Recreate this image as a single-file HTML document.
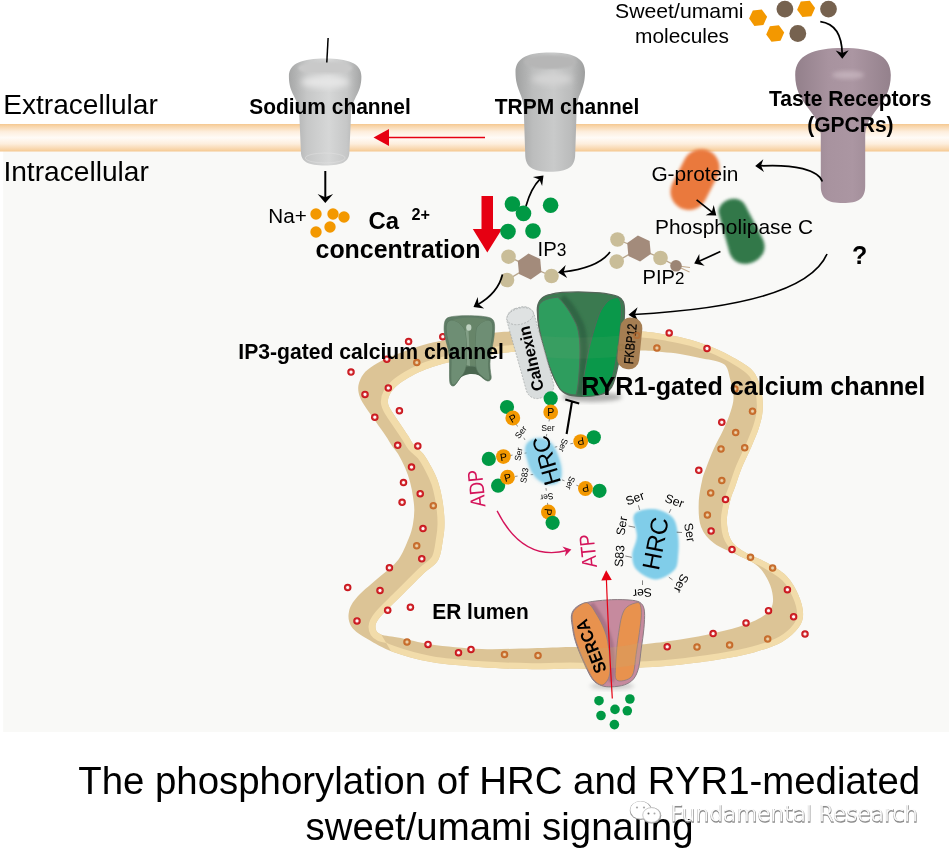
<!DOCTYPE html>
<html><head><meta charset="utf-8"><title>The phosphorylation of HRC and RYR1-mediated sweet/umami signaling</title>
<style>
html,body{margin:0;padding:0;background:#fff;}
body{width:949px;height:853px;overflow:hidden;}
svg{display:block;font-family:'Liberation Sans', Arial, sans-serif;opacity:0.999;}
</style></head><body>
<svg width="949" height="853" viewBox="0 0 949 853">
<defs>
<linearGradient id="mem" x1="0" y1="0" x2="0" y2="1">
 <stop offset="0" stop-color="#f5c890"/><stop offset="0.08" stop-color="#f8d5aa"/><stop offset="0.28" stop-color="#fdeedd"/>
 <stop offset="0.5" stop-color="#fffbf7"/>
 <stop offset="0.72" stop-color="#fdeedd"/><stop offset="0.92" stop-color="#f8d5aa"/><stop offset="1" stop-color="#f5c890"/>
</linearGradient>
<linearGradient id="gray" x1="0" y1="0" x2="1" y2="0">
 <stop offset="0" stop-color="#a6a7a7"/><stop offset="0.25" stop-color="#c6c7c7"/>
 <stop offset="0.55" stop-color="#d6d7d7"/><stop offset="0.8" stop-color="#c6c7c7"/>
 <stop offset="1" stop-color="#a4a5a5"/>
</linearGradient>
<linearGradient id="gray2" x1="0" y1="0" x2="1" y2="0">
 <stop offset="0" stop-color="#a0a1a1"/><stop offset="0.25" stop-color="#bcbdbd"/>
 <stop offset="0.55" stop-color="#c9caca"/><stop offset="0.8" stop-color="#bbbcbc"/>
 <stop offset="1" stop-color="#9d9e9e"/>
</linearGradient>
<linearGradient id="mauve" x1="0" y1="0" x2="1" y2="0">
 <stop offset="0" stop-color="#93808b"/><stop offset="0.35" stop-color="#a8939f"/>
 <stop offset="0.6" stop-color="#ab96a2"/><stop offset="1" stop-color="#94818c"/>
</linearGradient>
<radialGradient id="topgray" cx="0.5" cy="0.5" r="0.6">
 <stop offset="0" stop-color="#f0f0f0"/><stop offset="1" stop-color="#cfd0d0"/>
</radialGradient>
<radialGradient id="dotr"><stop offset="0" stop-color="#fff"/><stop offset="0.3" stop-color="#fdeeee"/><stop offset="0.52" stop-color="#d63a3f"/><stop offset="0.8" stop-color="#c9161d"/><stop offset="1" stop-color="#c9161d"/></radialGradient>
<radialGradient id="dotb"><stop offset="0" stop-color="#f0d9b8"/><stop offset="0.3" stop-color="#e6c49a"/><stop offset="0.52" stop-color="#cc7a38"/><stop offset="0.8" stop-color="#c5692a"/><stop offset="1" stop-color="#c5692a"/></radialGradient>
<filter id="b15" x="-30%" y="-30%" width="160%" height="160%"><feGaussianBlur stdDeviation="1.6"/></filter>
<filter id="b2" x="-30%" y="-30%" width="160%" height="160%"><feGaussianBlur stdDeviation="2"/></filter>
<filter id="b1" x="-30%" y="-30%" width="160%" height="160%"><feGaussianBlur stdDeviation="1.2"/></filter>
<filter id="b3" x="-30%" y="-30%" width="160%" height="160%"><feGaussianBlur stdDeviation="3"/></filter>
<filter id="b05" x="-30%" y="-30%" width="160%" height="160%"><feGaussianBlur stdDeviation="0.6"/></filter>
</defs>
<rect x="0" y="0" width="949" height="853" fill="#fff"/>
<rect x="3.2" y="150" width="946" height="582" fill="#f9f9f7"/>
<rect x="0" y="124" width="949" height="27.5" fill="url(#mem)"/>
<clipPath id="bandclip"><path clip-rule="evenodd" d="M443.5,340.5 C451.1,339.1 464.9,336.4 475.0,335.0 C485.1,333.6 493.2,332.6 504.0,331.8 C514.8,331.1 524.0,330.7 540.0,330.5 C556.0,330.3 583.0,330.3 600.0,330.5 C617.0,330.7 630.7,330.9 642.0,331.6 C653.3,332.4 659.8,333.6 668.0,335.0 C676.2,336.4 683.0,337.6 691.3,340.0 C699.5,342.4 709.1,345.6 717.5,349.4 C725.9,353.1 735.6,358.4 741.9,362.5 C748.1,366.6 751.7,368.8 755.0,373.8 C758.3,378.8 760.3,386.2 761.6,392.5 C762.9,398.8 763.1,405.4 762.6,411.3 C762.1,417.2 760.7,422.3 758.8,428.2 C756.9,434.1 754.1,440.3 751.3,446.9 C748.5,453.5 744.6,461.0 741.9,467.6 C739.2,474.2 737.2,480.9 735.3,486.3 C733.4,491.7 731.8,494.4 730.4,500.0 C729.0,505.6 726.9,513.4 726.9,519.9 C726.9,526.4 727.9,533.6 730.4,538.7 C732.9,543.8 736.2,546.5 742.1,550.4 C748.0,554.3 758.2,557.8 765.6,562.1 C773.0,566.4 781.2,570.7 786.7,576.2 C792.2,581.7 795.7,588.8 798.4,595.0 C801.1,601.2 803.1,608.2 803.1,613.7 C803.1,619.2 801.9,623.1 798.4,627.8 C794.9,632.5 789.4,637.8 782.0,641.9 C774.6,646.0 764.3,649.5 753.8,652.4 C743.2,655.3 730.4,657.5 718.7,659.5 C707.0,661.5 693.3,663.0 683.5,664.2 C673.7,665.4 668.9,665.9 660.0,666.5 C651.1,667.1 640.0,667.6 630.0,668.0 C620.0,668.4 610.0,668.9 600.0,669.0 C590.0,669.1 581.3,668.4 570.0,668.4 C558.7,668.4 547.0,669.4 532.3,669.2 C517.6,669.0 498.5,668.4 481.7,667.2 C464.9,666.0 445.9,664.6 431.2,662.1 C416.4,659.6 403.8,655.8 393.2,652.0 C382.6,648.2 374.8,643.5 367.9,639.3 C360.9,635.1 354.6,631.3 351.5,626.7 C348.4,622.1 347.9,616.6 349.0,611.5 C350.1,606.4 352.5,602.2 357.8,596.3 C363.1,590.4 373.9,582.1 380.6,576.1 C387.3,570.1 393.4,566.3 398.1,560.0 C402.8,553.7 406.2,544.4 408.7,538.5 C411.2,532.6 412.0,529.1 412.9,524.4 C413.8,519.7 414.3,515.0 414.3,510.3 C414.3,505.6 413.6,501.0 412.9,496.3 C412.2,491.6 411.4,486.9 410.1,482.2 C408.8,477.5 407.2,472.8 405.2,468.1 C403.2,463.4 400.4,458.0 398.1,454.1 C395.8,450.2 393.4,448.0 391.4,445.0 C389.3,442.0 388.4,439.9 385.8,436.1 C383.2,432.3 379.3,426.8 376.0,422.1 C372.7,417.4 368.8,412.2 366.1,408.0 C363.4,403.8 361.1,400.6 359.8,396.8 C358.5,393.1 357.8,389.3 358.4,385.5 C359.0,381.7 360.9,377.5 363.3,374.2 C365.8,370.9 369.1,368.5 373.1,365.8 C377.1,363.1 382.5,360.3 387.2,358.1 C391.9,355.9 396.6,354.2 401.3,352.4 C406.0,350.6 410.6,349.0 415.3,347.5 C420.0,346.0 424.7,344.5 429.4,343.3 C434.1,342.1 435.9,341.9 443.5,340.5Z M449.1,362.3 C455.5,360.9 465.9,359.1 475.0,357.5 C484.1,355.9 493.2,353.8 504.0,352.7 C514.8,351.6 524.0,351.4 540.0,351.0 C556.0,350.6 583.0,350.4 600.0,350.3 C617.0,350.2 631.7,350.3 642.0,350.6 C652.3,350.9 655.7,351.4 662.0,352.0 C668.3,352.6 673.9,353.0 680.0,354.0 C686.1,355.0 692.5,356.5 698.8,357.8 C705.0,359.1 713.0,360.2 717.5,361.6 C722.0,363.0 724.0,363.7 726.0,366.3 C728.0,368.9 728.5,372.5 729.7,377.5 C731.0,382.5 733.3,390.7 733.5,396.3 C733.7,401.9 732.4,405.7 730.7,411.3 C729.0,416.9 726.0,423.8 723.2,430.0 C720.4,436.2 716.6,442.5 713.8,448.8 C711.0,455.1 708.2,462.4 706.3,467.6 C704.4,472.8 703.5,474.0 702.2,480.0 C700.9,486.0 698.9,495.7 698.7,503.5 C698.5,511.3 698.6,520.3 701.1,526.9 C703.6,533.5 708.0,538.6 714.0,543.3 C720.0,548.0 730.0,551.2 737.4,555.1 C744.8,559.0 753.0,561.7 758.5,566.8 C764.0,571.9 767.9,579.4 770.3,585.6 C772.6,591.9 773.8,599.2 772.6,604.3 C771.4,609.4 768.7,612.4 763.2,616.1 C757.7,619.8 749.2,623.5 739.8,626.6 C730.4,629.7 718.2,632.4 706.9,634.8 C695.5,637.1 682.9,639.1 671.7,640.7 C660.6,642.3 652.0,643.5 640.0,644.5 C628.0,645.5 611.7,646.6 600.0,647.0 C588.3,647.4 581.3,646.8 570.0,647.0 C558.7,647.2 547.0,647.9 532.3,648.2 C517.6,648.5 498.5,649.6 481.7,649.0 C464.9,648.4 444.7,646.2 431.2,644.4 C417.7,642.6 409.2,639.8 400.8,638.1 C392.4,636.4 384.8,636.2 380.6,634.3 C376.4,632.4 375.5,629.7 375.5,626.7 C375.5,623.8 376.4,621.7 380.6,616.6 C384.8,611.5 393.6,603.5 400.8,596.3 C408.0,589.1 417.4,579.6 423.6,573.6 C429.8,567.6 434.9,565.9 438.2,560.0 C441.4,554.1 442.1,544.4 443.1,538.5 C444.2,532.6 444.4,529.1 444.5,524.4 C444.6,519.7 444.3,515.0 443.8,510.3 C443.3,505.6 442.6,501.0 441.7,496.3 C440.8,491.6 439.8,486.9 438.2,482.2 C436.6,477.5 434.4,472.8 431.9,468.1 C429.4,463.4 426.4,458.0 423.4,454.1 C420.4,450.2 416.4,448.0 413.9,445.0 C411.4,442.0 410.6,439.7 408.3,436.1 C406.0,432.5 402.7,427.7 399.9,423.5 C397.1,419.3 393.4,414.3 391.4,410.8 C389.4,407.3 388.1,405.2 387.9,402.4 C387.7,399.6 388.5,396.7 390.0,393.9 C391.5,391.1 394.1,388.2 397.1,385.5 C400.2,382.8 404.1,380.3 408.3,377.8 C412.5,375.3 417.7,372.7 422.4,370.7 C427.1,368.7 431.9,367.2 436.4,365.8 C440.8,364.4 442.7,363.7 449.1,362.3Z"/></clipPath>
<clipPath id="clipA"><path d="M340,300 L580,300 L580,400 L455,400 L455,560 L381,634 L392,653 L340,690Z"/></clipPath>
<clipPath id="clipB"><path clip-rule="evenodd" d="M0,0 H949 V853 H0Z M340,300 L580,300 L580,400 L455,400 L455,560 L381,634 L392,653 L340,690Z"/></clipPath>
<path fill-rule="evenodd" d="M443.5,340.5 C451.1,339.1 464.9,336.4 475.0,335.0 C485.1,333.6 493.2,332.6 504.0,331.8 C514.8,331.1 524.0,330.7 540.0,330.5 C556.0,330.3 583.0,330.3 600.0,330.5 C617.0,330.7 630.7,330.9 642.0,331.6 C653.3,332.4 659.8,333.6 668.0,335.0 C676.2,336.4 683.0,337.6 691.3,340.0 C699.5,342.4 709.1,345.6 717.5,349.4 C725.9,353.1 735.6,358.4 741.9,362.5 C748.1,366.6 751.7,368.8 755.0,373.8 C758.3,378.8 760.3,386.2 761.6,392.5 C762.9,398.8 763.1,405.4 762.6,411.3 C762.1,417.2 760.7,422.3 758.8,428.2 C756.9,434.1 754.1,440.3 751.3,446.9 C748.5,453.5 744.6,461.0 741.9,467.6 C739.2,474.2 737.2,480.9 735.3,486.3 C733.4,491.7 731.8,494.4 730.4,500.0 C729.0,505.6 726.9,513.4 726.9,519.9 C726.9,526.4 727.9,533.6 730.4,538.7 C732.9,543.8 736.2,546.5 742.1,550.4 C748.0,554.3 758.2,557.8 765.6,562.1 C773.0,566.4 781.2,570.7 786.7,576.2 C792.2,581.7 795.7,588.8 798.4,595.0 C801.1,601.2 803.1,608.2 803.1,613.7 C803.1,619.2 801.9,623.1 798.4,627.8 C794.9,632.5 789.4,637.8 782.0,641.9 C774.6,646.0 764.3,649.5 753.8,652.4 C743.2,655.3 730.4,657.5 718.7,659.5 C707.0,661.5 693.3,663.0 683.5,664.2 C673.7,665.4 668.9,665.9 660.0,666.5 C651.1,667.1 640.0,667.6 630.0,668.0 C620.0,668.4 610.0,668.9 600.0,669.0 C590.0,669.1 581.3,668.4 570.0,668.4 C558.7,668.4 547.0,669.4 532.3,669.2 C517.6,669.0 498.5,668.4 481.7,667.2 C464.9,666.0 445.9,664.6 431.2,662.1 C416.4,659.6 403.8,655.8 393.2,652.0 C382.6,648.2 374.8,643.5 367.9,639.3 C360.9,635.1 354.6,631.3 351.5,626.7 C348.4,622.1 347.9,616.6 349.0,611.5 C350.1,606.4 352.5,602.2 357.8,596.3 C363.1,590.4 373.9,582.1 380.6,576.1 C387.3,570.1 393.4,566.3 398.1,560.0 C402.8,553.7 406.2,544.4 408.7,538.5 C411.2,532.6 412.0,529.1 412.9,524.4 C413.8,519.7 414.3,515.0 414.3,510.3 C414.3,505.6 413.6,501.0 412.9,496.3 C412.2,491.6 411.4,486.9 410.1,482.2 C408.8,477.5 407.2,472.8 405.2,468.1 C403.2,463.4 400.4,458.0 398.1,454.1 C395.8,450.2 393.4,448.0 391.4,445.0 C389.3,442.0 388.4,439.9 385.8,436.1 C383.2,432.3 379.3,426.8 376.0,422.1 C372.7,417.4 368.8,412.2 366.1,408.0 C363.4,403.8 361.1,400.6 359.8,396.8 C358.5,393.1 357.8,389.3 358.4,385.5 C359.0,381.7 360.9,377.5 363.3,374.2 C365.8,370.9 369.1,368.5 373.1,365.8 C377.1,363.1 382.5,360.3 387.2,358.1 C391.9,355.9 396.6,354.2 401.3,352.4 C406.0,350.6 410.6,349.0 415.3,347.5 C420.0,346.0 424.7,344.5 429.4,343.3 C434.1,342.1 435.9,341.9 443.5,340.5Z M449.1,362.3 C455.5,360.9 465.9,359.1 475.0,357.5 C484.1,355.9 493.2,353.8 504.0,352.7 C514.8,351.6 524.0,351.4 540.0,351.0 C556.0,350.6 583.0,350.4 600.0,350.3 C617.0,350.2 631.7,350.3 642.0,350.6 C652.3,350.9 655.7,351.4 662.0,352.0 C668.3,352.6 673.9,353.0 680.0,354.0 C686.1,355.0 692.5,356.5 698.8,357.8 C705.0,359.1 713.0,360.2 717.5,361.6 C722.0,363.0 724.0,363.7 726.0,366.3 C728.0,368.9 728.5,372.5 729.7,377.5 C731.0,382.5 733.3,390.7 733.5,396.3 C733.7,401.9 732.4,405.7 730.7,411.3 C729.0,416.9 726.0,423.8 723.2,430.0 C720.4,436.2 716.6,442.5 713.8,448.8 C711.0,455.1 708.2,462.4 706.3,467.6 C704.4,472.8 703.5,474.0 702.2,480.0 C700.9,486.0 698.9,495.7 698.7,503.5 C698.5,511.3 698.6,520.3 701.1,526.9 C703.6,533.5 708.0,538.6 714.0,543.3 C720.0,548.0 730.0,551.2 737.4,555.1 C744.8,559.0 753.0,561.7 758.5,566.8 C764.0,571.9 767.9,579.4 770.3,585.6 C772.6,591.9 773.8,599.2 772.6,604.3 C771.4,609.4 768.7,612.4 763.2,616.1 C757.7,619.8 749.2,623.5 739.8,626.6 C730.4,629.7 718.2,632.4 706.9,634.8 C695.5,637.1 682.9,639.1 671.7,640.7 C660.6,642.3 652.0,643.5 640.0,644.5 C628.0,645.5 611.7,646.6 600.0,647.0 C588.3,647.4 581.3,646.8 570.0,647.0 C558.7,647.2 547.0,647.9 532.3,648.2 C517.6,648.5 498.5,649.6 481.7,649.0 C464.9,648.4 444.7,646.2 431.2,644.4 C417.7,642.6 409.2,639.8 400.8,638.1 C392.4,636.4 384.8,636.2 380.6,634.3 C376.4,632.4 375.5,629.7 375.5,626.7 C375.5,623.8 376.4,621.7 380.6,616.6 C384.8,611.5 393.6,603.5 400.8,596.3 C408.0,589.1 417.4,579.6 423.6,573.6 C429.8,567.6 434.9,565.9 438.2,560.0 C441.4,554.1 442.1,544.4 443.1,538.5 C444.2,532.6 444.4,529.1 444.5,524.4 C444.6,519.7 444.3,515.0 443.8,510.3 C443.3,505.6 442.6,501.0 441.7,496.3 C440.8,491.6 439.8,486.9 438.2,482.2 C436.6,477.5 434.4,472.8 431.9,468.1 C429.4,463.4 426.4,458.0 423.4,454.1 C420.4,450.2 416.4,448.0 413.9,445.0 C411.4,442.0 410.6,439.7 408.3,436.1 C406.0,432.5 402.7,427.7 399.9,423.5 C397.1,419.3 393.4,414.3 391.4,410.8 C389.4,407.3 388.1,405.2 387.9,402.4 C387.7,399.6 388.5,396.7 390.0,393.9 C391.5,391.1 394.1,388.2 397.1,385.5 C400.2,382.8 404.1,380.3 408.3,377.8 C412.5,375.3 417.7,372.7 422.4,370.7 C427.1,368.7 431.9,367.2 436.4,365.8 C440.8,364.4 442.7,363.7 449.1,362.3Z" fill="#dcc496"/>
<g clip-path="url(#bandclip)"><g clip-path="url(#clipA)"><path d="M449.1,362.3 C455.5,360.9 465.9,359.1 475.0,357.5 C484.1,355.9 493.2,353.8 504.0,352.7 C514.8,351.6 524.0,351.4 540.0,351.0 C556.0,350.6 583.0,350.4 600.0,350.3 C617.0,350.2 631.7,350.3 642.0,350.6 C652.3,350.9 655.7,351.4 662.0,352.0 C668.3,352.6 673.9,353.0 680.0,354.0 C686.1,355.0 692.5,356.5 698.8,357.8 C705.0,359.1 713.0,360.2 717.5,361.6 C722.0,363.0 724.0,363.7 726.0,366.3 C728.0,368.9 728.5,372.5 729.7,377.5 C731.0,382.5 733.3,390.7 733.5,396.3 C733.7,401.9 732.4,405.7 730.7,411.3 C729.0,416.9 726.0,423.8 723.2,430.0 C720.4,436.2 716.6,442.5 713.8,448.8 C711.0,455.1 708.2,462.4 706.3,467.6 C704.4,472.8 703.5,474.0 702.2,480.0 C700.9,486.0 698.9,495.7 698.7,503.5 C698.5,511.3 698.6,520.3 701.1,526.9 C703.6,533.5 708.0,538.6 714.0,543.3 C720.0,548.0 730.0,551.2 737.4,555.1 C744.8,559.0 753.0,561.7 758.5,566.8 C764.0,571.9 767.9,579.4 770.3,585.6 C772.6,591.9 773.8,599.2 772.6,604.3 C771.4,609.4 768.7,612.4 763.2,616.1 C757.7,619.8 749.2,623.5 739.8,626.6 C730.4,629.7 718.2,632.4 706.9,634.8 C695.5,637.1 682.9,639.1 671.7,640.7 C660.6,642.3 652.0,643.5 640.0,644.5 C628.0,645.5 611.7,646.6 600.0,647.0 C588.3,647.4 581.3,646.8 570.0,647.0 C558.7,647.2 547.0,647.9 532.3,648.2 C517.6,648.5 498.5,649.6 481.7,649.0 C464.9,648.4 444.7,646.2 431.2,644.4 C417.7,642.6 409.2,639.8 400.8,638.1 C392.4,636.4 384.8,636.2 380.6,634.3 C376.4,632.4 375.5,629.7 375.5,626.7 C375.5,623.8 376.4,621.7 380.6,616.6 C384.8,611.5 393.6,603.5 400.8,596.3 C408.0,589.1 417.4,579.6 423.6,573.6 C429.8,567.6 434.9,565.9 438.2,560.0 C441.4,554.1 442.1,544.4 443.1,538.5 C444.2,532.6 444.4,529.1 444.5,524.4 C444.6,519.7 444.3,515.0 443.8,510.3 C443.3,505.6 442.6,501.0 441.7,496.3 C440.8,491.6 439.8,486.9 438.2,482.2 C436.6,477.5 434.4,472.8 431.9,468.1 C429.4,463.4 426.4,458.0 423.4,454.1 C420.4,450.2 416.4,448.0 413.9,445.0 C411.4,442.0 410.6,439.7 408.3,436.1 C406.0,432.5 402.7,427.7 399.9,423.5 C397.1,419.3 393.4,414.3 391.4,410.8 C389.4,407.3 388.1,405.2 387.9,402.4 C387.7,399.6 388.5,396.7 390.0,393.9 C391.5,391.1 394.1,388.2 397.1,385.5 C400.2,382.8 404.1,380.3 408.3,377.8 C412.5,375.3 417.7,372.7 422.4,370.7 C427.1,368.7 431.9,367.2 436.4,365.8 C440.8,364.4 442.7,363.7 449.1,362.3Z" fill="none" stroke="#f2dcaa" stroke-width="14"/></g><g clip-path="url(#clipB)"><path d="M443.5,340.5 C451.1,339.1 464.9,336.4 475.0,335.0 C485.1,333.6 493.2,332.6 504.0,331.8 C514.8,331.1 524.0,330.7 540.0,330.5 C556.0,330.3 583.0,330.3 600.0,330.5 C617.0,330.7 630.7,330.9 642.0,331.6 C653.3,332.4 659.8,333.6 668.0,335.0 C676.2,336.4 683.0,337.6 691.3,340.0 C699.5,342.4 709.1,345.6 717.5,349.4 C725.9,353.1 735.6,358.4 741.9,362.5 C748.1,366.6 751.7,368.8 755.0,373.8 C758.3,378.8 760.3,386.2 761.6,392.5 C762.9,398.8 763.1,405.4 762.6,411.3 C762.1,417.2 760.7,422.3 758.8,428.2 C756.9,434.1 754.1,440.3 751.3,446.9 C748.5,453.5 744.6,461.0 741.9,467.6 C739.2,474.2 737.2,480.9 735.3,486.3 C733.4,491.7 731.8,494.4 730.4,500.0 C729.0,505.6 726.9,513.4 726.9,519.9 C726.9,526.4 727.9,533.6 730.4,538.7 C732.9,543.8 736.2,546.5 742.1,550.4 C748.0,554.3 758.2,557.8 765.6,562.1 C773.0,566.4 781.2,570.7 786.7,576.2 C792.2,581.7 795.7,588.8 798.4,595.0 C801.1,601.2 803.1,608.2 803.1,613.7 C803.1,619.2 801.9,623.1 798.4,627.8 C794.9,632.5 789.4,637.8 782.0,641.9 C774.6,646.0 764.3,649.5 753.8,652.4 C743.2,655.3 730.4,657.5 718.7,659.5 C707.0,661.5 693.3,663.0 683.5,664.2 C673.7,665.4 668.9,665.9 660.0,666.5 C651.1,667.1 640.0,667.6 630.0,668.0 C620.0,668.4 610.0,668.9 600.0,669.0 C590.0,669.1 581.3,668.4 570.0,668.4 C558.7,668.4 547.0,669.4 532.3,669.2 C517.6,669.0 498.5,668.4 481.7,667.2 C464.9,666.0 445.9,664.6 431.2,662.1 C416.4,659.6 403.8,655.8 393.2,652.0 C382.6,648.2 374.8,643.5 367.9,639.3 C360.9,635.1 354.6,631.3 351.5,626.7 C348.4,622.1 347.9,616.6 349.0,611.5 C350.1,606.4 352.5,602.2 357.8,596.3 C363.1,590.4 373.9,582.1 380.6,576.1 C387.3,570.1 393.4,566.3 398.1,560.0 C402.8,553.7 406.2,544.4 408.7,538.5 C411.2,532.6 412.0,529.1 412.9,524.4 C413.8,519.7 414.3,515.0 414.3,510.3 C414.3,505.6 413.6,501.0 412.9,496.3 C412.2,491.6 411.4,486.9 410.1,482.2 C408.8,477.5 407.2,472.8 405.2,468.1 C403.2,463.4 400.4,458.0 398.1,454.1 C395.8,450.2 393.4,448.0 391.4,445.0 C389.3,442.0 388.4,439.9 385.8,436.1 C383.2,432.3 379.3,426.8 376.0,422.1 C372.7,417.4 368.8,412.2 366.1,408.0 C363.4,403.8 361.1,400.6 359.8,396.8 C358.5,393.1 357.8,389.3 358.4,385.5 C359.0,381.7 360.9,377.5 363.3,374.2 C365.8,370.9 369.1,368.5 373.1,365.8 C377.1,363.1 382.5,360.3 387.2,358.1 C391.9,355.9 396.6,354.2 401.3,352.4 C406.0,350.6 410.6,349.0 415.3,347.5 C420.0,346.0 424.7,344.5 429.4,343.3 C434.1,342.1 435.9,341.9 443.5,340.5Z" fill="none" stroke="#f2dcaa" stroke-width="12"/></g></g>
<circle cx="416.8" cy="362.6" r="3.75" fill="url(#dotb)"/>
<circle cx="433.3" cy="505.7" r="3.75" fill="url(#dotb)"/>
<circle cx="416.7" cy="545.8" r="3.75" fill="url(#dotb)"/>
<circle cx="407.0" cy="642.0" r="3.75" fill="url(#dotb)"/>
<circle cx="504.5" cy="654.5" r="3.75" fill="url(#dotb)"/>
<circle cx="538.0" cy="655.5" r="3.75" fill="url(#dotb)"/>
<circle cx="636.9" cy="335.4" r="3.75" fill="url(#dotb)"/>
<circle cx="656.9" cy="348.0" r="3.75" fill="url(#dotb)"/>
<circle cx="752.5" cy="411.2" r="3.75" fill="url(#dotb)"/>
<circle cx="735.7" cy="432.6" r="3.75" fill="url(#dotb)"/>
<circle cx="721.0" cy="449.0" r="3.75" fill="url(#dotb)"/>
<circle cx="744.7" cy="447.8" r="3.75" fill="url(#dotb)"/>
<circle cx="721.8" cy="480.6" r="3.75" fill="url(#dotb)"/>
<circle cx="710.7" cy="492.9" r="3.75" fill="url(#dotb)"/>
<circle cx="707.4" cy="515.0" r="3.75" fill="url(#dotb)"/>
<circle cx="750.5" cy="557.3" r="3.75" fill="url(#dotb)"/>
<circle cx="772.6" cy="568.0" r="3.75" fill="url(#dotb)"/>
<circle cx="767.7" cy="639.0" r="3.75" fill="url(#dotb)"/>
<circle cx="729.6" cy="645.0" r="3.75" fill="url(#dotb)"/>
<circle cx="697.0" cy="647.0" r="3.75" fill="url(#dotb)"/>
<circle cx="734.9" cy="389.0" r="3.75" fill="url(#dotb)"/>
<circle cx="408.6" cy="341.6" r="3.75" fill="url(#dotr)"/>
<circle cx="442.8" cy="336.7" r="3.75" fill="url(#dotr)"/>
<circle cx="386.8" cy="359.2" r="3.75" fill="url(#dotr)"/>
<circle cx="351.0" cy="372.1" r="3.75" fill="url(#dotr)"/>
<circle cx="388.3" cy="388.0" r="3.75" fill="url(#dotr)"/>
<circle cx="365.0" cy="394.4" r="3.75" fill="url(#dotr)"/>
<circle cx="399.4" cy="410.8" r="3.75" fill="url(#dotr)"/>
<circle cx="374.8" cy="417.2" r="3.75" fill="url(#dotr)"/>
<circle cx="397.7" cy="445.3" r="3.75" fill="url(#dotr)"/>
<circle cx="417.8" cy="446.0" r="3.75" fill="url(#dotr)"/>
<circle cx="411.5" cy="467.1" r="3.75" fill="url(#dotr)"/>
<circle cx="403.5" cy="482.6" r="3.75" fill="url(#dotr)"/>
<circle cx="420.2" cy="493.7" r="3.75" fill="url(#dotr)"/>
<circle cx="402.1" cy="502.3" r="3.75" fill="url(#dotr)"/>
<circle cx="423.0" cy="528.6" r="3.75" fill="url(#dotr)"/>
<circle cx="421.8" cy="558.8" r="3.75" fill="url(#dotr)"/>
<circle cx="389.4" cy="567.8" r="3.75" fill="url(#dotr)"/>
<circle cx="347.7" cy="587.5" r="3.75" fill="url(#dotr)"/>
<circle cx="380.0" cy="590.5" r="3.75" fill="url(#dotr)"/>
<circle cx="387.7" cy="610.2" r="3.75" fill="url(#dotr)"/>
<circle cx="410.4" cy="607.2" r="3.75" fill="url(#dotr)"/>
<circle cx="357.0" cy="620.9" r="3.75" fill="url(#dotr)"/>
<circle cx="428.0" cy="644.4" r="3.75" fill="url(#dotr)"/>
<circle cx="458.5" cy="652.7" r="3.75" fill="url(#dotr)"/>
<circle cx="471.0" cy="649.5" r="3.75" fill="url(#dotr)"/>
<circle cx="669.2" cy="332.9" r="3.75" fill="url(#dotr)"/>
<circle cx="707.0" cy="348.5" r="3.75" fill="url(#dotr)"/>
<circle cx="721.8" cy="422.3" r="3.75" fill="url(#dotr)"/>
<circle cx="698.8" cy="470.3" r="3.75" fill="url(#dotr)"/>
<circle cx="725.5" cy="499.5" r="3.75" fill="url(#dotr)"/>
<circle cx="711.1" cy="531.0" r="3.75" fill="url(#dotr)"/>
<circle cx="732.0" cy="549.5" r="3.75" fill="url(#dotr)"/>
<circle cx="787.4" cy="589.7" r="3.75" fill="url(#dotr)"/>
<circle cx="768.5" cy="610.7" r="3.75" fill="url(#dotr)"/>
<circle cx="793.6" cy="616.8" r="3.75" fill="url(#dotr)"/>
<circle cx="805.0" cy="634.0" r="3.75" fill="url(#dotr)"/>
<circle cx="746.0" cy="623.0" r="3.75" fill="url(#dotr)"/>
<circle cx="713.1" cy="633.6" r="3.75" fill="url(#dotr)"/>
<circle cx="667.2" cy="646.8" r="3.75" fill="url(#dotr)"/>
<path d="M288.9,76.5 C288.9,63.0 302.7,58.5 325.2,58.5 C347.7,58.5 361.4,63.0 361.4,76.5 C361.4,94.2 352.4,97.1 351.2,112.0 L349.4,151.5 C349.4,162.0 342.2,165.5 325.2,165.5 C308.2,165.5 300.9,162.0 300.9,151.5 L299.2,112.0 C298.0,97.1 288.9,94.2 288.9,76.5 Z" fill="url(#gray)"/>
<ellipse cx="325.2" cy="68" rx="27" ry="6.5" fill="#c9c9c9" filter="url(#b1)"/>
<ellipse cx="325.2" cy="82" rx="24" ry="6" fill="#e6e6e6" filter="url(#b3)"/>
<ellipse cx="325.2" cy="158" rx="20" ry="5" fill="none" stroke="#e2e2e2" stroke-width="0.9" opacity="0.55"/>
<path d="M515.5,72.0 C515.5,57.4 528.7,52.5 550.2,52.5 C571.7,52.5 585.0,57.4 585.0,72.0 C585.0,90.0 577.7,92.9 576.7,108.0 L575.2,153.7 C575.2,167.2 567.7,171.7 550.2,171.7 C532.7,171.7 525.2,167.2 525.2,153.7 L523.7,108.0 C522.7,92.9 515.5,90.0 515.5,72.0 Z" fill="url(#gray2)"/>
<ellipse cx="550.2" cy="62" rx="26" ry="7" fill="#b6b6b6" filter="url(#b1)"/>
<ellipse cx="552" cy="79" rx="20" ry="6" fill="#d4d4d4" filter="url(#b3)"/>
<path d="M795.2,75.0 C795.2,54.8 813.4,48.0 843.0,48.0 C872.6,48.0 890.8,54.8 890.8,75.0 C890.8,104.5 868.3,109.2 865.2,134.0 L865.2,186.0 C865.2,198.8 858.6,203.0 843.0,203.0 C827.4,203.0 820.8,198.8 820.8,186.0 L820.8,134.0 C817.7,109.2 795.2,104.5 795.2,75.0 Z" fill="url(#mauve)"/>
<ellipse cx="848" cy="75" rx="16" ry="4" fill="#c4b2bc" filter="url(#b2)" opacity="0.9"/>
<path d="M328.1,38 L326.8,62.5" stroke="#000" stroke-width="1.5" fill="none"/>
<path d="M325.3,171.0 Q325.3,186.0 325.3,198.1" fill="none" stroke="#000" stroke-width="2.00"/><polygon points="325.3,203.0 333.1,194.0 325.3,197.2 317.6,194.0" fill="#000"/>
<path d="M388,137.5 L485,137.5" stroke="#e60012" stroke-width="1.6"/>
<polygon points="373.5,137.5 389,129 389,146" fill="#e60012"/>
<polygon points="481.5,196 493,196 493,229 502,229 487.3,252.5 472.8,229 481.5,229" fill="#e60012"/>
<circle cx="316.0" cy="214.0" r="5.7" fill="#f39800"/>
<circle cx="333.0" cy="214.0" r="5.7" fill="#f39800"/>
<circle cx="344.0" cy="217.0" r="5.7" fill="#f39800"/>
<circle cx="330.0" cy="227.0" r="5.7" fill="#f39800"/>
<circle cx="316.0" cy="232.0" r="5.7" fill="#f39800"/>
<circle cx="512.4" cy="204.0" r="7.8" fill="#009944"/>
<circle cx="523.5" cy="213.4" r="7.8" fill="#009944"/>
<circle cx="550.6" cy="205.2" r="7.8" fill="#009944"/>
<circle cx="508.0" cy="231.6" r="7.8" fill="#009944"/>
<circle cx="533.0" cy="231.0" r="7.8" fill="#009944"/>
<polygon points="767.1,16.8 763.4,25.0 754.4,25.9 749.1,18.6 752.8,10.4 761.8,9.5" fill="#f39800"/>
<polygon points="815.1,8.0 811.4,16.2 802.4,17.1 797.1,9.8 800.8,1.6 809.8,0.7" fill="#f39800"/>
<polygon points="784.2,32.6 780.5,40.8 771.5,41.7 766.2,34.4 769.9,26.2 778.9,25.3" fill="#f39800"/>
<circle cx="784.9" cy="9.1" r="8.4" fill="#76624f"/>
<circle cx="828.5" cy="9.1" r="8.4" fill="#76624f"/>
<circle cx="797.8" cy="33.5" r="8.4" fill="#76624f"/>
<path d="M529.6,266.6 L508.5,256.7" stroke="#b8a68c" stroke-width="1.3"/><path d="M529.6,266.6 L507.0,280.0" stroke="#b8a68c" stroke-width="1.3"/><path d="M529.6,266.6 L551.5,276.0" stroke="#b8a68c" stroke-width="1.3"/><circle cx="508.5" cy="256.7" r="7.3" fill="#c9bd98"/><circle cx="507.0" cy="280.0" r="7.3" fill="#c9bd98"/><circle cx="551.5" cy="276.0" r="7.3" fill="#c9bd98"/><polygon points="541.4,272.1 530.7,279.6 519.0,274.1 517.8,261.1 528.5,253.6 540.2,259.1" fill="#a38b7b"/>
<path d="M639.0,248.5 L617.5,239.5" stroke="#b8a68c" stroke-width="1.3"/><path d="M639.0,248.5 L616.7,261.6" stroke="#b8a68c" stroke-width="1.3"/><path d="M639.0,248.5 L660.5,258.0" stroke="#b8a68c" stroke-width="1.3"/><path d="M660.5,258.0 L676.0,265.8" stroke="#b8a68c" stroke-width="1.3"/><circle cx="617.5" cy="239.5" r="7.3" fill="#c9bd98"/><circle cx="616.7" cy="261.6" r="7.3" fill="#c9bd98"/><circle cx="660.5" cy="258.0" r="7.3" fill="#c9bd98"/><polygon points="650.8,254.0 640.1,261.5 628.4,256.0 627.2,243.0 637.9,235.5 649.6,241.0" fill="#a38b7b"/>
<path d="M676,265.8 L690,267.5 M676,265.8 L689.5,272" stroke="#c2a98b" stroke-width="1.1"/>
<circle cx="676" cy="265.8" r="5.8" fill="#9c8574"/>
<rect x="-18.5" y="-32" width="37" height="64" rx="18.5" fill="#ea793e" transform="translate(695 179.6) rotate(27)" filter="url(#b15)"/>
<path d="M-13.5,-22 C-13.5,-38 13.5,-38 14.5,-22 L18,16 C19,39 -19,39 -18,16Z" fill="#33784a" transform="translate(740.3 231.5) rotate(-22)" filter="url(#b15)"/>
<path d="M526.0,206.0 Q531.0,188.0 540.2,178.8" fill="none" stroke="#000" stroke-width="1.70"/><polygon points="543.5,175.5 532.9,176.9 539.4,179.6 542.1,186.1" fill="#000"/>
<path d="M820.3,21.7 C838.0,24.0 842.0,40.0 842.2,54.1" fill="none" stroke="#000" stroke-width="1.70"/><polygon points="842.3,58.8 848.7,50.2 842.2,53.0 835.7,50.4" fill="#000"/>
<path d="M822.3,181.5 C818.0,170.0 795.0,164.0 759.9,165.9" fill="none" stroke="#000" stroke-width="1.70"/><polygon points="755.2,166.1 764.0,172.1 761.0,165.8 763.3,159.2" fill="#000"/>
<path d="M696.6,199.9 Q706.5,207.7 712.6,212.6" fill="none" stroke="#000" stroke-width="1.70"/><polygon points="716.3,215.5 713.7,205.1 711.8,211.9 705.6,215.3" fill="#000"/>
<path d="M720.4,251.6 Q707.3,257.5 698.5,261.5" fill="none" stroke="#000" stroke-width="1.70"/><polygon points="694.2,263.4 704.6,265.8 699.5,261.0 699.3,254.0" fill="#000"/>
<path d="M610.0,252.0 Q598.0,268.0 562.6,272.0" fill="none" stroke="#000" stroke-width="1.70"/><polygon points="558.0,272.5 567.2,278.0 563.7,271.9 565.7,265.1" fill="#000"/>
<path d="M502.5,274.5 Q498.0,293.0 477.6,304.7" fill="none" stroke="#000" stroke-width="1.70"/><polygon points="473.5,307.0 484.1,308.4 478.5,304.1 477.7,297.1" fill="#000"/>
<path d="M827.0,254.0 Q805.0,305.0 633.7,314.5" fill="none" stroke="#000" stroke-width="1.70"/><polygon points="628.5,314.8 638.4,321.3 635.0,314.4 637.6,307.3" fill="#000"/>
<g>
<path d="M444.1,330 C444,322 445,318.5 449,317.3 C455,315 484,315 490.5,318 C494,319.5 494.8,323 494.6,329
 C494.3,340 491.5,349 490.3,358 C489.3,366 490.5,372 491.2,376.5 C491.5,379.5 490,381.5 487.4,381
 C484,380 482,377 479.2,375 C474,371 466,371 461.7,376 C458.5,379.5 457,383.5 454.6,385.5 C452,387 450,385 449.7,381.5
 C449.2,375 449.8,365 449.3,356.5 C448.8,347 444.3,339 444.1,330Z" fill="#5f7d66" stroke="#56705a" stroke-width="0.6"/>
<path d="M458,371 C462,365 478,365 482,371 L484,379 C478,372 464,372 457,381Z" fill="#4a664f"/>
<path d="M446.2,329 C446,323 448,320.5 452,320 C457,320.5 462,324 465.2,330.5 C467,338 467.8,352 466.3,365.7 C465.5,370 464,373.5 461.7,376 C458.5,379.5 457,383 454.6,384.5 C452.5,385.5 451.3,384 451,381
 C450.5,372 451.5,364 451,356 C450.3,346 446.4,338 446.2,329Z" fill="#6e8e74" stroke="#547059" stroke-width="0.6"/>
<path d="M492.8,329 C493,323 491.5,320.5 488,320 C484,320.3 479.5,323 476.3,328.1 C475,336 474.8,352 475.7,365.7 C476.3,370 478,373 480.4,375 C483,377 485,379 487.4,380 C489.5,380.5 490,379 489.8,376.5
 C489,371 488,365 489,357.5 C490,349 492.6,339 492.8,329Z" fill="#6e8e74" stroke="#547059" stroke-width="0.6"/>
<path d="M452,320 C462,316.5 478,316.5 488,320 C483,321.5 479,324 476.3,328.1 C475,336 474.8,352 475.7,365.7 L466.3,365.7 C467.8,352 467,338 465.2,330.5 C462.5,325 458,321.5 452,320Z" fill="#678569"/>
<path d="M465.5,331 C467.2,340 467.6,352 466.5,365 L470,366 C469.6,352 469,338 468.3,327Z" fill="#89a58d" opacity="0.8"/>
<ellipse cx="468.8" cy="327.5" rx="2.6" ry="3.2" fill="#c0d2c2" filter="url(#b05)"/>
</g>
<g>
<ellipse cx="592" cy="397" rx="30" ry="5" fill="#666" opacity="0.5" filter="url(#b2)"/>
<path d="M537.3,310 C537.3,300 542,296 550.6,294.3 C564,291 604,290.8 618,296.5 C623.2,298.7 624.7,303 624.5,313
 C623.8,335 619.5,362 615,378 C612.8,386 611,389.5 606,392.5 C600,396.3 580,397.2 572,395.6 C566,394.6 563,392.5 560,389
 C552,377 545,355 539.5,330.6 C537.8,322 537.3,316 537.3,310Z" fill="#3b7a50" stroke="#56665a" stroke-width="1.3"/>
<path d="M559.5,297.5 C565,302 572,312 577.5,323.8 C581,331 582.3,345 581.2,364.3 C580.6,375 579.8,388 577.6,395" fill="none" stroke="#25543a" stroke-width="7" opacity="0.55" filter="url(#b15)" transform="translate(2.5 0)"/>
<path d="M538.3,309 C538.3,301.5 545,298.5 557.8,297.2 C563.5,302 570.5,312 576,323.8 C579.3,331 580.7,345 579.6,364.3
 C579,375 578.2,388 576,395 C569.5,394.8 564,393 560,389 C552,377 545,355 539.8,330.6 C538.3,322 538.3,316 538.3,309Z" fill="#2e9d5e" stroke="#56665a" stroke-width="0.9"/>
<path d="M617.6,297.6 C614,297.6 611,298.6 608,301 C604,305 601,309.5 599.4,313.7 C596.4,321 592,336 589.3,347.5
 C587,358 584.2,374 582.6,384.6 L582.4,396.2 C592,396.7 601,395.3 605.5,392 C609,389.5 610.3,386 612.3,378
 C616.3,362 620.3,335 621.3,313 C621.5,304.5 621,300 617.6,297.6Z" fill="#0a984a" stroke="#56665a" stroke-width="0.9"/>
<path d="M539,336 C560,338 600,338 620.5,335.5 L618.3,356.5 C598,359 566,359.5 544.5,357Z" fill="#c8b98a" opacity="0.07"/>
</g>
<g transform="translate(530.3 352.6) rotate(-15.6)">
<rect x="-14" y="-46.5" width="28" height="93" rx="11" fill="#d9dddd" stroke="#a9adad" stroke-width="0.7" stroke-dasharray="2 1.3"/>
<ellipse cx="0" cy="-37.8" rx="13.6" ry="8" fill="#dfe2e2" stroke="#a9adad" stroke-width="0.7" stroke-dasharray="2 1.3"/>
</g>
<text transform="translate(531.3 358.5) rotate(-103.0)" font-size="16.60" text-anchor="middle" dominant-baseline="central" font-weight="bold" textLength="66.0" lengthAdjust="spacingAndGlyphs">Calnexin</text>
<rect x="-11" y="-25.8" width="22" height="51.6" rx="10" fill="#a57e52" transform="translate(629.8 343.4) rotate(5.8)"/>
<g stroke="#000" stroke-width="0.25"><text transform="translate(630.4 344.0) rotate(-84.5)" font-size="13.20" text-anchor="middle" dominant-baseline="central" textLength="40.5" lengthAdjust="spacingAndGlyphs">FKBP12</text></g>
<circle cx="636.9" cy="335.4" r="2.6" fill="none" stroke="#b5692f" stroke-width="2" opacity="0.75"/>
<circle cx="621" cy="347.4" r="2.6" fill="none" stroke="#9a7a45" stroke-width="2" opacity="0.5"/>
<g>
<ellipse cx="612" cy="686" rx="22" ry="3.5" fill="#777" opacity="0.35" filter="url(#b2)"/>
<path d="M571.6,614.5 C572.4,611.3 574.1,608.8 576.8,606.8 C579.5,604.8 581.9,603.5 587.7,602.3 C593.5,601.1 604.2,600.0 611.6,599.7 C619.0,599.4 627.3,599.7 632.3,600.3 C637.2,600.9 639.3,601.6 641.3,603.5 C643.3,605.4 644.1,607.7 644.5,611.9 C644.9,616.1 644.4,622.7 643.9,628.7 C643.4,634.7 642.2,641.7 641.3,648.1 C640.4,654.5 640.0,662.2 638.7,667.4 C637.4,672.5 635.9,676.1 633.5,679.0 C631.1,681.9 628.1,683.5 624.5,684.8 C620.9,686.1 615.5,686.7 611.6,686.8 C607.7,686.9 604.5,686.8 601.3,685.5 C598.1,684.2 595.3,683.1 592.3,679.0 C589.3,674.9 586.0,667.2 583.2,661.0 C580.4,654.8 577.3,647.4 575.5,641.6 C573.7,635.8 572.9,630.6 572.3,626.1 C571.6,621.6 570.9,617.7 571.6,614.5Z" fill="#c68a9e" stroke="#8a7c82" stroke-width="1"/>
<path d="M591,604 C600,616 607.5,630 610.5,644 C612.5,658 613,672 611,682" fill="none" stroke="#8c5d72" stroke-width="6" opacity="0.5" filter="url(#b1)"/>
<path d="M572.3,614.5 C573.0,611.4 574.7,609.2 577.3,607.3 C579.9,605.4 584.4,601.6 587.7,603.0 C591.1,604.4 594.7,611.5 597.4,615.8 C600.1,620.1 602.2,624.4 603.9,628.7 C605.6,633.0 606.7,636.2 607.7,641.6 C608.7,647.0 609.4,655.6 609.7,661.0 C610.0,666.4 610.2,670.5 609.7,673.9 C609.2,677.3 607.9,679.8 606.5,681.6 C605.1,683.5 603.6,685.5 601.3,685.0 C599.0,684.5 595.7,682.7 592.8,678.7 C589.9,674.7 586.6,667.2 583.8,661.0 C581.0,654.8 577.9,647.4 576.1,641.6 C574.3,635.8 573.6,630.6 573.0,626.1 C572.4,621.6 571.6,617.6 572.3,614.5Z" fill="#e8924e" stroke="#8a7c82" stroke-width="0.8"/>
<path d="M637.4,602.6 C635.1,602.8 629.7,604.6 627.1,606.8 C624.5,609.0 623.3,611.5 621.9,615.8 C620.5,620.1 619.6,627.2 618.7,632.6 C617.9,638.0 617.3,642.3 616.8,648.1 C616.3,653.9 615.7,662.5 615.5,667.4 C615.3,672.3 614.9,675.4 615.5,677.7 C616.1,680.0 617.2,680.8 619.4,681.0 C621.5,681.2 626.0,680.4 628.4,679.0 C630.8,677.6 632.2,676.7 633.5,672.6 C634.8,668.5 635.1,661.2 636.1,654.5 C637.1,647.8 638.5,639.1 639.4,632.6 C640.3,626.1 641.1,620.3 641.3,615.8 C641.5,611.3 641.2,608.0 640.6,605.8 C640.0,603.6 639.6,602.4 637.4,602.6Z" fill="#e8924e" stroke="#8a7c82" stroke-width="0.8"/>
<path d="M577.5,648 C600,649.5 622,647 641.4,642.5 L638.8,664 C620,668 600,669.5 585.5,668.7Z" fill="#c9a56e" opacity="0.3"/>
</g>
<text transform="translate(591.2 646.3) rotate(-111.5)" font-size="17.60" text-anchor="middle" dominant-baseline="central" font-weight="bold" textLength="56.0" lengthAdjust="spacingAndGlyphs">SERCA</text>
<path d="M612.3,698.5 C610,660 607.5,610 606.4,579" stroke="#e60012" stroke-width="1.2" fill="none"/>
<polygon points="606.2,570.3 601.3,580.5 611.8,580" fill="#e60012"/>
<circle cx="599.0" cy="700.7" r="4.8" fill="#009944"/>
<circle cx="629.9" cy="699.0" r="4.8" fill="#009944"/>
<circle cx="615.0" cy="709.4" r="4.8" fill="#009944"/>
<circle cx="627.3" cy="710.8" r="4.8" fill="#009944"/>
<circle cx="601.0" cy="715.5" r="4.8" fill="#009944"/>
<circle cx="614.4" cy="724.6" r="4.8" fill="#009944"/>
<path d="M566.6,434 L572,401.5 M565.3,399.6 L579.2,403.4" stroke="#000" stroke-width="2.1" fill="none"/>
<path d="M528,443 C535,436 548,438 553,446 C558,455 562,466 561,476 C559,485 549,486 541,481 C533,476 530,468 528,460 C526,453 524,448 528,443Z" fill="#8fd1ea" filter="url(#b2)"/>
<text transform="translate(546.5 460.5) rotate(-106.0)" font-size="23.50" text-anchor="middle" dominant-baseline="central" textLength="50.0" lengthAdjust="spacingAndGlyphs">HRC</text>
<path d="M516.3,424.2 L517.5,426.5" stroke="#333" stroke-width="0.55"/>
<path d="M523.8,437.7 L525.0,440.0" stroke="#333" stroke-width="0.55"/>
<path d="M549.5,418.9 L549.0,421.4" stroke="#333" stroke-width="0.55"/>
<path d="M546.8,433.9 L546.3,436.5" stroke="#333" stroke-width="0.55"/>
<path d="M573.0,443.3 L570.4,443.8" stroke="#333" stroke-width="0.55"/>
<path d="M557.2,446.6 L554.7,447.2" stroke="#333" stroke-width="0.55"/>
<path d="M578.8,486.1 L576.4,485.2" stroke="#333" stroke-width="0.55"/>
<path d="M564.5,480.8 L562.0,479.9" stroke="#333" stroke-width="0.55"/>
<path d="M547.7,505.5 L547.5,502.9" stroke="#333" stroke-width="0.55"/>
<path d="M546.3,490.7 L546.0,488.1" stroke="#333" stroke-width="0.55"/>
<path d="M515.0,476.4 L517.6,476.1" stroke="#333" stroke-width="0.55"/>
<path d="M530.7,474.7 L533.2,474.5" stroke="#333" stroke-width="0.55"/>
<path d="M509.9,455.6 L512.5,455.1" stroke="#333" stroke-width="0.55"/>
<path d="M524.6,453.2 L527.2,452.8" stroke="#333" stroke-width="0.55"/>
<path d="M528,443 C535,436 548,438 553,446 C558,455 562,466 561,476 C559,485 549,486 541,481 C533,476 530,468 528,460 C526,453 524,448 528,443Z" fill="#8fd1ea" filter="url(#b1)"/>
<text transform="translate(546.5 460.5) rotate(-106.0)" font-size="23.50" text-anchor="middle" dominant-baseline="central" textLength="50.0" lengthAdjust="spacingAndGlyphs">HRC</text>
<circle cx="507.0" cy="407.0" r="7.1" fill="#009944"/><circle cx="512.8" cy="418.0" r="7.4" fill="#f39800"/><text transform="translate(512.8 418.0) rotate(-30.0)" font-size="10.50" text-anchor="middle" dominant-baseline="central">P</text>
<text transform="translate(520.7 432.2) rotate(-52.0)" font-size="8.60" text-anchor="middle" dominant-baseline="central">Ser</text>
<circle cx="550.7" cy="398.4" r="7.1" fill="#009944"/><circle cx="550.7" cy="412.0" r="7.4" fill="#f39800"/><text transform="translate(550.7 412.0) rotate(0.0)" font-size="10.50" text-anchor="middle" dominant-baseline="central">P</text>
<text transform="translate(547.9 427.7) rotate(0.0)" font-size="8.60" text-anchor="middle" dominant-baseline="central">Ser</text>
<circle cx="593.8" cy="437.3" r="7.1" fill="#009944"/><circle cx="580.7" cy="441.6" r="7.4" fill="#f39800"/><text transform="translate(580.7 441.6) rotate(170.0)" font-size="10.50" text-anchor="middle" dominant-baseline="central">P</text>
<text transform="translate(563.4 445.3) rotate(108.0)" font-size="8.60" text-anchor="middle" dominant-baseline="central">Ser</text>
<circle cx="599.5" cy="490.8" r="7.1" fill="#009944"/><circle cx="585.4" cy="488.5" r="7.4" fill="#f39800"/><text transform="translate(585.4 488.5) rotate(170.0)" font-size="10.50" text-anchor="middle" dominant-baseline="central">P</text>
<text transform="translate(570.4 483.0) rotate(110.0)" font-size="8.60" text-anchor="middle" dominant-baseline="central">Ser</text>
<circle cx="548.4" cy="512.0" r="7.4" fill="#f39800"/><text transform="translate(548.4 512.0) rotate(95.0)" font-size="10.50" text-anchor="middle" dominant-baseline="central">P</text><circle cx="552.6" cy="522.8" r="7.1" fill="#009944"/>
<text transform="translate(546.9 497.0) rotate(172.0)" font-size="8.60" text-anchor="middle" dominant-baseline="central">Ser</text>
<circle cx="498.1" cy="485.7" r="7.1" fill="#009944"/><circle cx="507.5" cy="477.2" r="7.4" fill="#f39800"/><text transform="translate(507.5 477.2) rotate(-15.0)" font-size="10.50" text-anchor="middle" dominant-baseline="central">P</text>
<text transform="translate(524.4 475.4) rotate(-80.0)" font-size="8.60" text-anchor="middle" dominant-baseline="central">S83</text>
<circle cx="488.8" cy="458.9" r="7.1" fill="#009944"/><circle cx="503.4" cy="456.6" r="7.4" fill="#f39800"/><text transform="translate(503.4 456.6) rotate(-10.0)" font-size="10.50" text-anchor="middle" dominant-baseline="central">P</text>
<text transform="translate(518.4 454.2) rotate(-80.0)" font-size="8.60" text-anchor="middle" dominant-baseline="central">Ser</text>
<path d="M634.1,514.7 C636.9,510.2 647.4,508.6 653.8,509.1 C660.2,509.6 668.5,513.0 672.6,517.5 C676.7,522.0 677.3,530.0 678.2,536.3 C679.1,542.5 678.8,549.4 678.2,555.0 C677.6,560.6 678.1,565.9 674.4,570.0 C670.6,574.1 662.0,579.4 655.7,579.4 C649.5,579.4 640.8,574.1 636.9,570.0 C633.0,565.9 632.2,560.6 632.2,555.0 C632.2,549.4 636.6,543.0 636.9,536.3 C637.2,529.6 631.3,519.2 634.1,514.7Z" fill="#80cde9" filter="url(#b1)"/>
<text transform="translate(655.5 543.5) rotate(-79.0)" font-size="24.50" text-anchor="middle" dominant-baseline="central" textLength="53.0" lengthAdjust="spacingAndGlyphs">HRC</text>
<text transform="translate(635.0 498.4) rotate(-20.0)" font-size="12.20" text-anchor="middle" dominant-baseline="central">Ser</text>
<path d="M638.4,505.3 L639.7,510.0" stroke="#333" stroke-width="0.6"/>
<text transform="translate(674.4 501.0) rotate(20.0)" font-size="12.20" text-anchor="middle" dominant-baseline="central">Ser</text>
<path d="M671.0,509.0 L669.2,512.8" stroke="#333" stroke-width="0.6"/>
<text transform="translate(621.9 526.0) rotate(-80.0)" font-size="12.20" text-anchor="middle" dominant-baseline="central">Ser</text>
<path d="M628.5,526.0 L635.0,527.3" stroke="#333" stroke-width="0.6"/>
<text transform="translate(689.6 532.5) rotate(80.0)" font-size="12.20" text-anchor="middle" dominant-baseline="central">Ser</text>
<path d="M676.7,532.2 L682.0,532.5" stroke="#333" stroke-width="0.6"/>
<text transform="translate(619.6 556.0) rotate(-85.0)" font-size="12.20" text-anchor="middle" dominant-baseline="central">S83</text>
<path d="M625.3,556.0 L631.7,557.3" stroke="#333" stroke-width="0.6"/>
<text transform="translate(681.0 583.2) rotate(115.0)" font-size="12.20" text-anchor="middle" dominant-baseline="central">Ser</text>
<path d="M668.8,577.2 L672.5,579.8" stroke="#333" stroke-width="0.6"/>
<text transform="translate(642.5 592.8) rotate(175.0)" font-size="12.20" text-anchor="middle" dominant-baseline="central">Ser</text>
<path d="M642.5,580.4 L642.5,585.0" stroke="#333" stroke-width="0.6"/>
<text transform="translate(476.3 488.5) rotate(-95.6)" font-size="21.00" text-anchor="middle" dominant-baseline="central" fill="#d4145a" textLength="37.5" lengthAdjust="spacingAndGlyphs">ADP</text>
<text transform="translate(587.8 551.0) rotate(-95.9)" font-size="21.00" text-anchor="middle" dominant-baseline="central" fill="#d4145a" textLength="33.5" lengthAdjust="spacingAndGlyphs">ATP</text>
<path d="M497.1,510.9 Q523.0,562.0 567.1,550.5" fill="none" stroke="#d4145a" stroke-width="1.30"/><polygon points="571.4,549.4 562.4,546.6 566.1,550.8 564.9,556.3" fill="#d4145a"/>
<text x="3.3" y="113.8" font-size="27.50" textLength="154.5" lengthAdjust="spacingAndGlyphs" >Extracellular</text>
<text x="3.4" y="181.3" font-size="27.50" textLength="145.5" lengthAdjust="spacingAndGlyphs" >Intracellular</text>
<text x="249.3" y="114.2" font-size="21.50" font-weight="bold" textLength="161.5" lengthAdjust="spacingAndGlyphs" >Sodium channel</text>
<text x="494.8" y="114.3" font-size="21.50" font-weight="bold" textLength="144.5" lengthAdjust="spacingAndGlyphs" >TRPM channel</text>
<text x="850.2" y="106.0" font-size="21.50" font-weight="bold" text-anchor="middle" textLength="162.5" lengthAdjust="spacingAndGlyphs" >Taste Receptors</text>
<text x="850.4" y="131.5" font-size="21.50" font-weight="bold" text-anchor="middle" textLength="86.5" lengthAdjust="spacingAndGlyphs" >(GPCRs)</text>
<text x="679.3" y="17.5" font-size="20.70" text-anchor="middle" textLength="128.5" lengthAdjust="spacingAndGlyphs" >Sweet/umami</text>
<text x="682.0" y="42.5" font-size="20.70" text-anchor="middle" textLength="94.0" lengthAdjust="spacingAndGlyphs" >molecules</text>
<text x="268.3" y="222.5" font-size="19.50" textLength="38.5" lengthAdjust="spacingAndGlyphs" >Na+</text>
<text x="368.5" y="228.6" font-size="24.50" font-weight="bold" textLength="30.5" lengthAdjust="spacingAndGlyphs" >Ca</text>
<text x="411.5" y="220.0" font-size="16.00" font-weight="bold" textLength="18.5" lengthAdjust="spacingAndGlyphs" >2+</text>
<text x="315.5" y="258.2" font-size="25.30" font-weight="bold" textLength="165.0" lengthAdjust="spacingAndGlyphs" >concentration</text>
<text x="537.6" y="256.2" font-size="20.50" textLength="28.8" lengthAdjust="spacingAndGlyphs" >IP<tspan font-size="17.5">3</tspan></text>
<text x="642.6" y="284.3" font-size="19.50" textLength="41.8" lengthAdjust="spacingAndGlyphs" >PIP<tspan font-size="16.5">2</tspan></text>
<text x="651.4" y="181.0" font-size="20.90" textLength="87.0" lengthAdjust="spacingAndGlyphs" >G-protein</text>
<text x="655.0" y="234.0" font-size="20.90" textLength="158.0" lengthAdjust="spacingAndGlyphs" >Phospholipase C</text>
<text x="852.0" y="264.0" font-size="25.00" font-weight="bold" >?</text>
<text x="238.3" y="358.7" font-size="21.40" font-weight="bold" textLength="265.5" lengthAdjust="spacingAndGlyphs" >IP3-gated calcium channel</text>
<text x="581.3" y="394.8" font-size="25.20" font-weight="bold" textLength="344.0" lengthAdjust="spacingAndGlyphs" >RYR1-gated calcium channel</text>
<text x="432.2" y="619.3" font-size="21.60" font-weight="bold" textLength="96.5" lengthAdjust="spacingAndGlyphs" >ER lumen</text>
<text x="499.2" y="794.0" font-size="38.20" text-anchor="middle" textLength="842.0" lengthAdjust="spacingAndGlyphs" >The phosphorylation of HRC and RYR1-mediated</text>
<text x="499.5" y="840.0" font-size="38.20" text-anchor="middle" textLength="388.0" lengthAdjust="spacingAndGlyphs" >sweet/umami signaling</text>
<g>
<text x="670.5" y="821.3" font-size="21.5" font-weight="200" font-family="'DejaVu Sans', 'Liberation Sans', sans-serif" textLength="247.5" lengthAdjust="spacingAndGlyphs" fill="#8c8c8c" stroke="#8c8c8c" stroke-width="1.5" filter="url(#b05)" transform="translate(0.3 0.4)">Fundamental Research</text>
<text x="670.5" y="821.3" font-size="21.5" font-weight="200" font-family="'DejaVu Sans', 'Liberation Sans', sans-serif" textLength="247.5" lengthAdjust="spacingAndGlyphs" fill="#fff" stroke="#fff" stroke-width="0.5">Fundamental Research</text>
<g filter="url(#b05)" transform="translate(0.3 0.5)"><ellipse cx="640.5" cy="810" rx="11" ry="9.5" fill="#9a9a9a"/><ellipse cx="651.5" cy="815" rx="9.5" ry="8.1" fill="#9a9a9a"/></g>
<ellipse cx="640.5" cy="810" rx="10.2" ry="8.7" fill="#fff"/>
<ellipse cx="651.5" cy="815" rx="8.8" ry="7.4" fill="#fff" stroke="#b5b5b5" stroke-width="0.7"/>
<circle cx="637" cy="807.5" r="1.1" fill="#aaa"/><circle cx="644" cy="807.5" r="1.1" fill="#aaa"/>
<circle cx="648.5" cy="813.5" r="1" fill="#666"/><circle cx="654.5" cy="813.5" r="1" fill="#aaa"/>
</g>
</svg>
</body></html>
